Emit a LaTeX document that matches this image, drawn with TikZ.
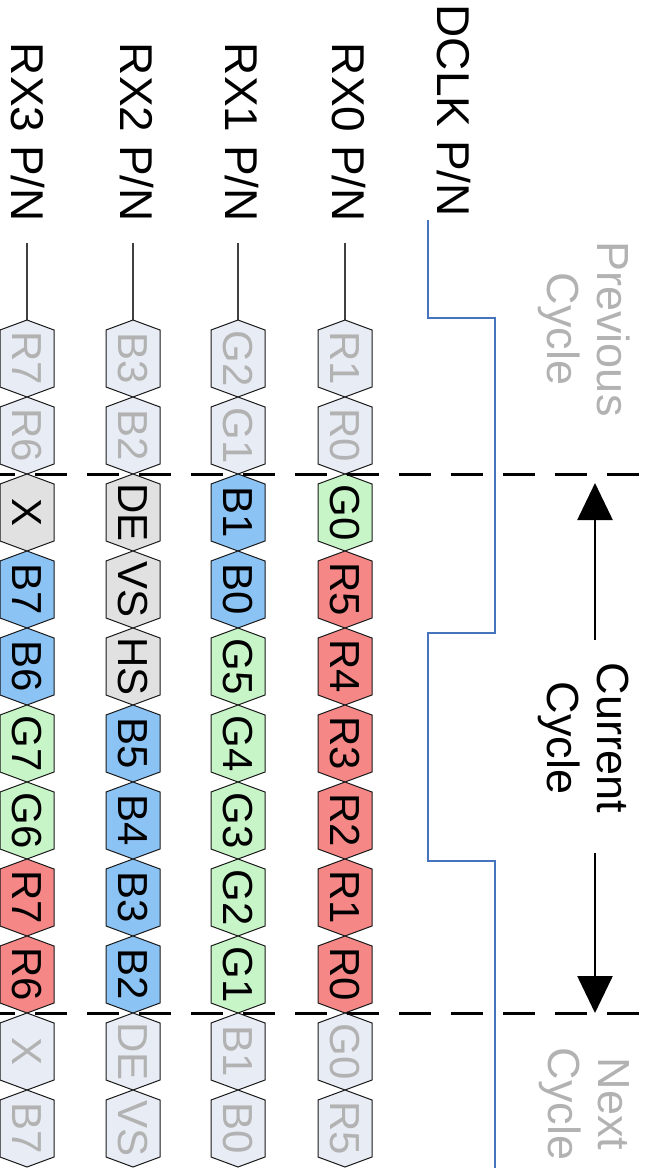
\documentclass[tikz,border=0pt]{standalone}
\usepackage{fontspec}
\setmainfont{Liberation Sans}
\usetikzlibrary{arrows.meta}

\definecolor{ghostfill}{RGB}{232,236,244}
\definecolor{ghosttext}{RGB}{178,178,178}
\definecolor{greenfill}{RGB}{200,245,200}
\definecolor{redfill}{RGB}{245,135,135}
\definecolor{bluefill}{RGB}{140,195,245}
\definecolor{greyfill}{RGB}{225,225,225}
\definecolor{clkblue}{RGB}{70,115,190}

\tikzset{
    sig/.style={font=\fontsize{46}{46}\selectfont, rotate=-90, anchor=base east, inner sep=0pt},
    cell/.style={font=\fontsize{42}{42}\selectfont, rotate=-90, inner sep=0pt},
    note/.style={font=\fontsize{45}{50}\selectfont, rotate=-90, align=center, inner sep=0pt},
    hexline/.style={draw=black!90, line width=1pt},
    ghostcell/.style={hexline, fill=ghostfill, text=ghosttext},
    greencell/.style={hexline, fill=greenfill, text=black},
    redcell/.style={hexline, fill=redfill, text=black},
    bluecell/.style={hexline, fill=bluefill, text=black},
    greycell/.style={hexline, fill=greyfill, text=black},
    laneline/.style={draw=black!75, line width=1.2pt},
    cut/.style={line width=3pt, dash pattern=on 32pt off 20pt, dash phase=17pt},
    span/.style={line width=2.5pt, -{Triangle[width=35pt,length=37pt]}}
}

\begin{document}
\begin{tikzpicture}[x=1pt, y=-1pt]
    \useasboundingbox (0,0) rectangle (653,1168);

    % signal names
    \node[sig] (dclk) at (437,217) {DCLK P/N};
    \node[sig] (rx0) at (332,222) {RX0 P/N};
    \node[sig] (rx1) at (225,222) {RX1 P/N};
    \node[sig] (rx2) at (120,222) {RX2 P/N};
    \node[sig] (rx3) at (12,222) {RX3 P/N};

    % lanes
    \foreach \x/\n/\cells in {
        345/0/{R1/ghostcell,R0/ghostcell,G0/greencell,R5/redcell,R4/redcell,R3/redcell,R2/redcell,R1/redcell,R0/redcell,G0/ghostcell,R5/ghostcell},
        238/1/{G2/ghostcell,G1/ghostcell,B1/bluecell,B0/bluecell,G5/greencell,G4/greencell,G3/greencell,G2/greencell,G1/greencell,B1/ghostcell,B0/ghostcell},
        133/2/{B3/ghostcell,B2/ghostcell,DE/greycell,VS/greycell,HS/greycell,B5/bluecell,B4/bluecell,B3/bluecell,B2/bluecell,DE/ghostcell,VS/ghostcell},
        27/3/{R7/ghostcell,R6/ghostcell,X/greycell,B7/bluecell,B6/bluecell,G7/greencell,G6/greencell,R7/redcell,R6/redcell,X/ghostcell,B7/ghostcell}} {
        \coordinate (lane\n) at (\x,243);
        \coordinate (start\n) at (\x,320);
        \draw[laneline] (lane\n) -- (start\n);
        \foreach \t/\s [count=\i from 0] in \cells {
            \pgfmathsetmacro{\ya}{320+77*\i}
            \draw[\s] (\x,\ya) -- ++(27,10) -- ++(0,57) -- ++(-27,10) -- ++(-27,-10) -- ++(0,-57) -- cycle
                (\x,{\ya+38.5}) node[cell] (c\n-\i) {\t};
        }
    }

    % clock
    \coordinate (clk0) at (428,220);
    \draw[clkblue, line width=2.8pt] (clk0) -- (428,318) -- (495,318) -- (495,633)
        -- (428,633) -- (428,861) -- (495,861) -- (495,1168);

    % cycle borders
    \draw[cut] (0,474) -- (653,474);
    \draw[cut] (0,1013) -- (653,1013);

    % cycle names
    \node[note, text=ghosttext] (prev) at (584,329) {Previous\\Cycle};
    \node[note] (cur) at (584,738) {Current\\Cycle};
    \node[note, text=ghosttext] (next) at (584,1104) {Next\\Cycle};
    \coordinate (curtop) at (595,640);
    \coordinate (curbot) at (595,853);
    \draw[span] (curtop) -- (595,483);
    \draw[span] (curbot) -- (595,1013);
\end{tikzpicture}
\end{document}
